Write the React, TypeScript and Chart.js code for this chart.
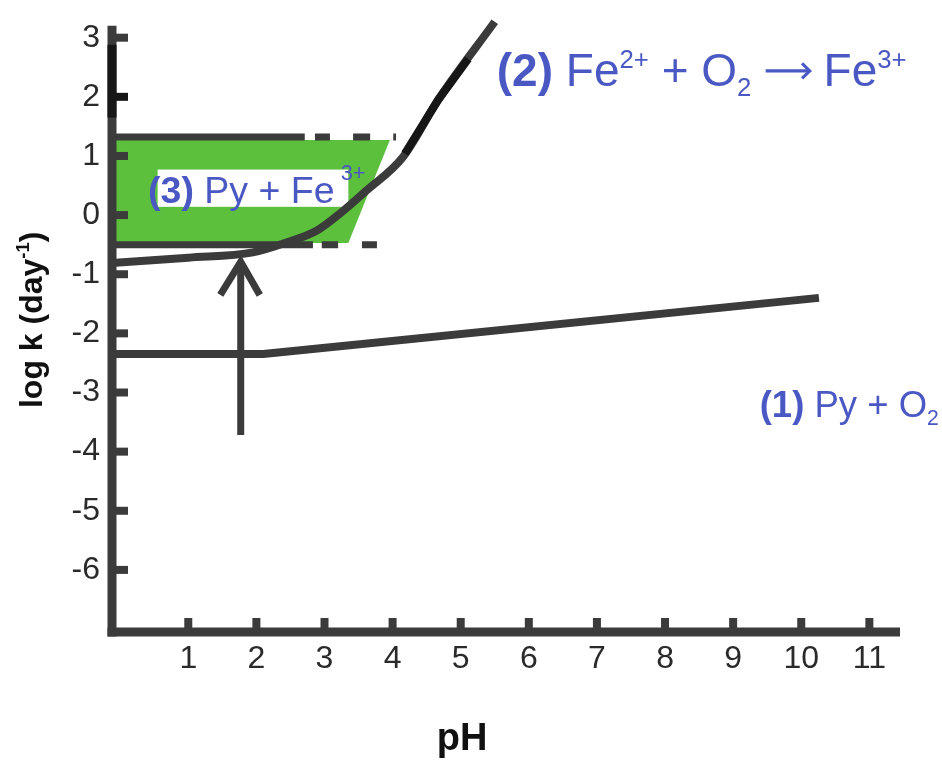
import React, { useEffect, useRef } from 'react';
import { Chart, registerables } from 'chart.js';

Chart.register(...registerables);

// ---------- data ----------
const xTickValues = [1, 2, 3, 4, 5, 6, 7, 8, 9, 10, 11];
const yTickValues = [-6, -5, -4, -3, -2, -1, 0, 1, 2, 3];

// (1) Py + O2
const pyO2X = [-0.12, 2.1, 10.26];
const pyO2Y = [-2.35, -2.35, -1.4];

// (2) Fe2+ + O2 -> Fe3+
const feOxX = [-0.12, 1.0, 1.95, 2.45, 2.89, 3.23, 3.62, 4.15, 4.67, 5.5];
const feOxY = [-0.81, -0.72, -0.63, -0.46, -0.26, 0.03, 0.42, 0.98, 1.95, 3.27];
const feOxDarkX = [4.18, 4.67, 5.11];
const feOxDarkY = [1.04, 1.95, 2.64];

// (3) Py + Fe3+ shaded range
const rangeX = [-0.12, 3.96, 3.35, -0.12, -0.12];
const rangeY = [1.27, 1.27, -0.47, -0.47, 1.27];

// range bounds (solid then dashed)
const upperBoundY = 1.32;
const upperStarts = [-0.12, 2.86, 3.42, 4.01];
const upperEnds = [2.71, 3.08, 3.67, 4.05];
const lowerBoundY = -0.5;
const lowerStarts = [-0.12, 2.96, 3.55];
const lowerEnds = [2.83, 3.2, 3.77];

// arrow
const arrowShaftX = [1.77, 1.77];
const arrowShaftY = [-3.72, -0.79];
const arrowHeadX = [1.47, 1.77, 2.05];
const arrowHeadY = [-1.35, -0.79, -1.35];

// axis extents
const xMin = -0.12;
const xMax = 11.45;
const yMin = -7.05;
const yMax = 3.35;
const yAxisTop = 3.2;
const yAxisDarkFrom = 1.65;
const yAxisDarkTo = 2.88;

// label anchors (data coords)
const label1Pos = [9.39, -3.42];
const label2Pos = [5.53, 2.19];
const label3Pos = [0.41, 0.21];
const label3BoxX = [0.55, 3.35];
const label3BoxY = [0.14, 0.77];
const xTitlePosX = 5.02;
const yTitlePosY = -1.77;

// ---------- styles ----------
const GRAY = '#3b3b3b';
const BLACK = '#161616';
const GREEN = '#5cc03c';
const BLUE = '#4a58c4';
const FONT = '"Liberation Sans", Arial, Helvetica, sans-serif';

type Seg = { t: string; b?: boolean; sup?: boolean; sub?: boolean; arrow?: number };

function pts(xs: number[], ys: number[]) {
  return xs.map((x, i) => ({ x, y: ys[i] }));
}

function broken(starts: number[], ends: number[], y: number) {
  const out: any[] = [];
  starts.forEach((s, i) => {
    out.push({ x: s, y });
    out.push({ x: ends[i], y });
    out.push({ x: ends[i], y: null });
  });
  return out;
}

function segWidth(ctx: CanvasRenderingContext2D, s: Seg, size: number, supScale: number) {
  if (s.arrow) return s.arrow * size;
  const fs = s.sup || s.sub ? size * supScale : size;
  ctx.font = `${s.b ? 'bold ' : ''}${fs}px ${FONT}`;
  return ctx.measureText(s.t).width;
}

function richWidth(ctx: CanvasRenderingContext2D, segs: Seg[], size: number, supScale = 0.58) {
  let w = 0;
  for (const s of segs) w += segWidth(ctx, s, size, supScale);
  return w;
}

function drawRich(
  ctx: CanvasRenderingContext2D,
  segs: Seg[],
  x: number,
  y: number,
  size: number,
  color: string,
  supShift = 0.38,
  subShift = 0.2,
  supScale = 0.58,
) {
  ctx.save();
  ctx.fillStyle = color;
  ctx.strokeStyle = color;
  ctx.textBaseline = 'alphabetic';
  ctx.textAlign = 'left';
  let cx = x;
  for (const s of segs) {
    const w = segWidth(ctx, s, size, supScale);
    if (s.arrow) {
      const ay = y - size * 0.32;
      const head = size * 0.19;
      ctx.lineWidth = Math.max(2, size * 0.068);
      ctx.lineCap = 'butt';
      ctx.lineJoin = 'miter';
      ctx.beginPath();
      ctx.moveTo(cx, ay);
      ctx.lineTo(cx + w - 2, ay);
      ctx.stroke();
      ctx.beginPath();
      ctx.moveTo(cx + w - head, ay - head * 0.85);
      ctx.lineTo(cx + w - 1, ay);
      ctx.lineTo(cx + w - head, ay + head * 0.85);
      ctx.stroke();
    } else {
      const dy = s.sup ? -size * supShift : s.sub ? size * subShift : 0;
      ctx.fillText(s.t, cx, y + dy);
    }
    cx += w;
  }
  ctx.restore();
}

const label1: Seg[] = [{ t: '(1)', b: true }, { t: ' Py + O' }, { t: '2', sub: true }];
const label2: Seg[] = [
  { t: '(2)', b: true },
  { t: ' Fe' },
  { t: '2+', sup: true },
  { t: ' + O' },
  { t: '2', sub: true },
  { t: '  ', sup: true },
  { t: '', arrow: 0.98 },
  { t: ' Fe' },
  { t: '3+', sup: true },
];
const label3: Seg[] = [{ t: '(3)', b: true }, { t: ' Py + Fe' }, { t: ' ', sup: true }, { t: '3+', sup: true }];
const yTitle: Seg[] = [{ t: 'log k (day', b: true }, { t: '-1', b: true, sup: true }, { t: ')', b: true }];

const decorPlugin = {
  id: 'decor',
  beforeDatasetsDraw(chart: any) {
    const { ctx, scales } = chart;
    const x = scales.x;
    const y = scales.y;
    // white box behind label 3
    const bx0 = x.getPixelForValue(label3BoxX[0]);
    const bx1 = x.getPixelForValue(label3BoxX[1]);
    const by0 = y.getPixelForValue(label3BoxY[1]);
    const by1 = y.getPixelForValue(label3BoxY[0]);
    ctx.save();
    ctx.fillStyle = '#ffffff';
    ctx.fillRect(bx0, by0, bx1 - bx0, by1 - by0);
    ctx.restore();
    drawRich(ctx, label3, x.getPixelForValue(label3Pos[0]), y.getPixelForValue(label3Pos[1]), 37.5, BLUE, 0.61, 0.2, 0.58);
  },
  afterDatasetsDraw(chart: any) {
    const { ctx, scales, chartArea } = chart;
    const x = scales.x;
    const y = scales.y;
    const left = chartArea.left;
    const bottom = chartArea.bottom;
    ctx.save();
    ctx.lineCap = 'butt';
    // axes
    ctx.strokeStyle = GRAY;
    ctx.lineWidth = 9;
    ctx.beginPath();
    ctx.moveTo(left, y.getPixelForValue(yAxisTop));
    ctx.lineTo(left, bottom + 4.5);
    ctx.stroke();
    ctx.beginPath();
    ctx.moveTo(left - 4.5, bottom);
    ctx.lineTo(x.getPixelForValue(xMax), bottom);
    ctx.stroke();
    // dark upper part of y axis
    ctx.strokeStyle = BLACK;
    ctx.beginPath();
    ctx.moveTo(left, y.getPixelForValue(yAxisDarkTo));
    ctx.lineTo(left, y.getPixelForValue(yAxisDarkFrom));
    ctx.stroke();
    // ticks
    ctx.lineWidth = 8;
    for (const v of yTickValues) {
      const py = y.getPixelForValue(v);
      ctx.strokeStyle = v === 2 ? BLACK : GRAY;
      ctx.beginPath();
      ctx.moveTo(left, py);
      ctx.lineTo(left + 16, py);
      ctx.stroke();
    }
    ctx.strokeStyle = GRAY;
    for (const v of xTickValues) {
      const px = x.getPixelForValue(v);
      ctx.beginPath();
      ctx.moveTo(px, bottom);
      ctx.lineTo(px, bottom - 14);
      ctx.stroke();
    }
    ctx.restore();

    // labels
    drawRich(ctx, label2, x.getPixelForValue(label2Pos[0]), y.getPixelForValue(label2Pos[1]), 46, BLUE, 0.38, 0.22, 0.56);
    drawRich(ctx, label1, x.getPixelForValue(label1Pos[0]), y.getPixelForValue(label1Pos[1]), 36.5, BLUE, 0.38, 0.2, 0.58);

    // x title
    ctx.save();
    ctx.font = `bold 38px ${FONT}`;
    ctx.fillStyle = '#111111';
    ctx.textAlign = 'center';
    ctx.textBaseline = 'alphabetic';
    ctx.fillText('pH', x.getPixelForValue(xTitlePosX), bottom + 118);
    ctx.restore();

    // y title (rotated)
    ctx.save();
    const tw = richWidth(ctx, yTitle, 32);
    ctx.translate(left - 70, y.getPixelForValue(yTitlePosY));
    ctx.rotate(-Math.PI / 2);
    drawRich(ctx, yTitle, -tw / 2, 0, 32, '#111111', 0.4, 0.2, 0.58);
    ctx.restore();
  },
};

export default function App() {
  const canvasRef = useRef<HTMLCanvasElement | null>(null);

  useEffect(() => {
    const canvas = canvasRef.current;
    if (!canvas) return;
    const lineBase = {
      showLine: true,
      pointRadius: 0,
      pointHoverRadius: 0,
      fill: false,
      spanGaps: false,
      borderCapStyle: 'butt',
    };
    const chart = new Chart(canvas, {
      type: 'scatter',
      data: {
        datasets: [
          {
            ...lineBase,
            label: 'arrow head',
            data: pts(arrowHeadX, arrowHeadY),
            borderColor: GRAY,
            borderWidth: 7,
            borderJoinStyle: 'miter',
          },
          {
            ...lineBase,
            label: 'arrow',
            data: pts(arrowShaftX, arrowShaftY),
            borderColor: GRAY,
            borderWidth: 7,
          },
          {
            ...lineBase,
            label: 'Fe oxidation dark',
            data: pts(feOxDarkX, feOxDarkY),
            borderColor: BLACK,
            borderWidth: 8,
          },
          {
            ...lineBase,
            label: '(2) Fe2+ + O2',
            data: pts(feOxX, feOxY),
            borderColor: GRAY,
            borderWidth: 8,
            borderJoinStyle: 'round',
            cubicInterpolationMode: 'monotone',
          },
          {
            ...lineBase,
            label: '(1) Py + O2',
            data: pts(pyO2X, pyO2Y),
            borderColor: GRAY,
            borderWidth: 8,
            borderJoinStyle: 'round',
          },
          {
            ...lineBase,
            label: 'upper bound',
            data: broken(upperStarts, upperEnds, upperBoundY),
            borderColor: GRAY,
            borderWidth: 7,
          },
          {
            ...lineBase,
            label: 'lower bound',
            data: broken(lowerStarts, lowerEnds, lowerBoundY),
            borderColor: GRAY,
            borderWidth: 7,
          },
          {
            ...lineBase,
            label: '(3) Py + Fe3+',
            data: pts(rangeX, rangeY),
            borderColor: 'rgba(0,0,0,0)',
            borderWidth: 0,
            backgroundColor: GREEN,
            fill: 'shape',
          },
        ],
      },
      options: {
        animation: false,
        responsive: false,
        maintainAspectRatio: false,
        events: [],
        layout: { padding: { top: 17, right: 42, left: 0, bottom: 0 } },
        plugins: {
          legend: { display: false },
          tooltip: { enabled: false },
          filler: { drawTime: 'beforeDatasetsDraw' },
        },
        scales: {
          x: {
            type: 'linear',
            min: xMin,
            max: xMax,
            grid: { display: false, drawTicks: false },
            border: { display: false },
            afterFit: (s: any) => {
              s.height = 128;
              s.paddingLeft = 0;
              s.paddingRight = 0;
            },
            afterBuildTicks: (s: any) => {
              s.ticks = xTickValues.map((v) => ({ value: v }));
            },
            ticks: {
              autoSkip: false,
              maxRotation: 0,
              padding: 8,
              color: '#2a2a2a',
              font: { family: FONT, size: 32 },
              callback: (v: any) => String(v),
            },
          },
          y: {
            type: 'linear',
            min: yMin,
            max: yMax,
            grid: { display: false, drawTicks: false },
            border: { display: false },
            afterFit: (s: any) => {
              s.width = 112;
              s.paddingTop = 0;
              s.paddingBottom = 0;
            },
            afterBuildTicks: (s: any) => {
              s.ticks = yTickValues.map((v) => ({ value: v }));
            },
            ticks: {
              autoSkip: false,
              padding: 12,
              color: '#2a2a2a',
              font: { family: FONT, size: 32 },
              callback: (v: any) => String(v),
            },
          },
        },
      },
      plugins: [decorPlugin],
    } as any);
    return () => chart.destroy();
  }, []);

  return (
    <div style={{ position: 'fixed', left: 0, top: 0, width: 942, height: 760, background: '#ffffff' }}>
      <canvas ref={canvasRef} width={942} height={760} />
    </div>
  );
}
